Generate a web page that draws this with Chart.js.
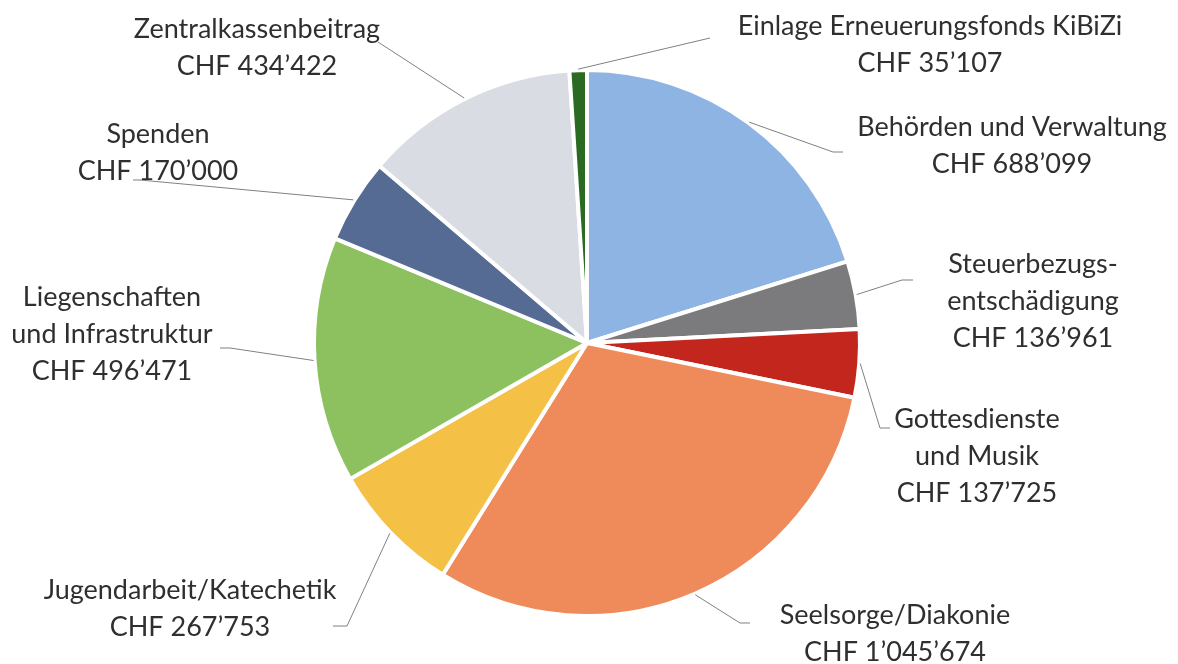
<!DOCTYPE html>
<html>
<head>
<meta charset="utf-8">
<script src="https://cdn.jsdelivr.net/npm/chart.js@4/dist/chart.umd.min.js"></script>
<style>
  html, body { margin: 0; padding: 0; background: #fff; }
  #wrap { width: 1178px; height: 664px; position: relative; }
</style>
</head>
<body>
<div id="wrap"><canvas id="pie"></canvas></div>
<script>
// Kategorien (mehrzeilig wie im Original) und Beträge in CHF
const categories = [
  ["Behörden und Verwaltung"],
  ["Steuerbezugs-", "entschädigung"],
  ["Gottesdienste", "und Musik"],
  ["Seelsorge/Diakonie"],
  ["Jugendarbeit/Katechetik"],
  ["Liegenschaften", "und Infrastruktur"],
  ["Spenden"],
  ["Zentralkassenbeitrag"],
  ["Einlage Erneuerungsfonds KiBiZi"]
];
const amounts = [688099, 136961, 137725, 1045674, 267753, 496471, 170000, 434422, 35107];
const sliceColors = ["#8db4e2", "#7b7b7e", "#c2261c", "#ef8a5b", "#f4c146", "#8dc05f", "#566b93", "#d9dce2", "#2b6a23"];

// Lage der Beschriftungen: Textmitte, Knickpunkt der Linie, Linienende
const labelLayout = [
  { x: 1012, y: 127, ex: 833, ey: 152, tx: 843 },
  { x: 1033, y: 264, ex: 902, ey: 280, tx: 913 },
  { x: 977,  y: 419, ex: 880, ey: 428, tx: 890 },
  { x: 895,  y: 615, ex: 740, ey: 623, tx: 750 },
  { x: 190,  y: 590, ex: 347, ey: 626, tx: 333 },
  { x: 112,  y: 297, ex: 230, ey: 348, tx: 220 },
  { x: 158,  y: 134, ex: 140, ey: 180, tx: 133 },
  { x: 257,  y: 29,  ex: 378, ey: 42,  tx: 378 },
  { x: 930,  y: 26,  ex: 710, ey: 38,  tx: 710 }
];

// 1045674 -> CHF 1’045’674
function chf(v) {
  return "CHF " + String(v).replace(/\B(?=(\d{3})+(?!\d))/g, "\u2019");
}

// Beschriftungen + Führungslinien zeichnen
const labelPlugin = {
  id: "labels",
  afterDraw(chart) {
    const ctx = chart.ctx;
    const arcs = chart.getDatasetMeta(0).data;
    ctx.save();
    arcs.forEach((arc, i) => {
      const p = arc.getProps(["x", "y", "startAngle", "endAngle", "outerRadius"], true);
      const mid = (p.startAngle + p.endAngle) / 2;
      const sx = p.x + Math.cos(mid) * (p.outerRadius + 1);
      const sy = p.y + Math.sin(mid) * (p.outerRadius + 1);
      const L = labelLayout[i];
      ctx.strokeStyle = "#808080";
      ctx.lineWidth = 1;
      ctx.beginPath();
      ctx.moveTo(sx, sy);
      ctx.lineTo(L.ex, L.ey);
      ctx.lineTo(L.tx, L.ey);
      ctx.stroke();

      const lines = categories[i].concat([chf(amounts[i])]);
      ctx.fillStyle = "#2f2f2f";
      ctx.font = "27px Lato";
      ctx.textAlign = "center";
      ctx.textBaseline = "middle";
      lines.forEach((t, k) => ctx.fillText(t, L.x, L.y + k * 37));
    });
    ctx.restore();
  }
};

new Chart(document.getElementById("pie"), {
  type: "pie",
  data: {
    labels: categories.map(c => c.join(" ")),
    datasets: [{
      data: amounts,
      backgroundColor: sliceColors,
      borderColor: "#ffffff",
      borderWidth: 4
    }]
  },
  options: {
    responsive: true,
    maintainAspectRatio: false,
    animation: false,
    layout: { padding: { left: 312, right: 316, top: 68, bottom: 46 } },
    plugins: { legend: { display: false }, tooltip: { enabled: false } }
  },
  plugins: [labelPlugin]
});
</script>
</body>
</html>
